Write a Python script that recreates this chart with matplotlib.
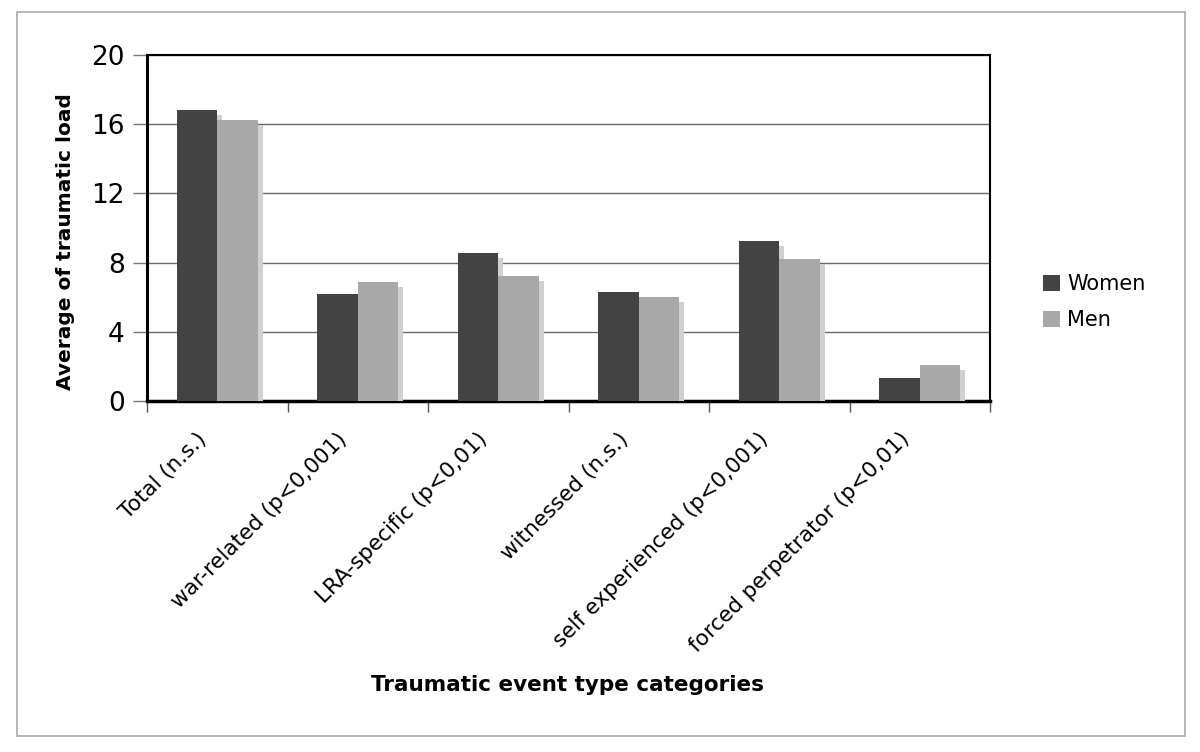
import matplotlib
matplotlib.use("Agg")
import matplotlib.pyplot as plt
import matplotlib.patheffects as pe
import matplotlib.transforms as mtransforms
from matplotlib.patches import Rectangle
import numpy as np

categories = ["Total (n.s.)", "war-related (p<0,001)", "LRA-specific (p<0,01)",
              "witnessed (n.s.)", "self experienced (p<0,001)", "forced perpetrator (p<0,01)"]
women = [16.8, 6.2, 8.55, 6.3, 9.25, 1.3]
men = [16.25, 6.9, 7.2, 6.0, 8.2, 2.1]
yticks = [0, 4, 8, 12, 16, 20]

plt.rcParams['font.family'] = ['DejaVu Sans']

fig = plt.figure(figsize=(12, 7.52), dpi=100)
fig.patches.append(Rectangle((0.0145, 0.021), 0.973, 0.963, transform=fig.transFigure,
                             fill=False, edgecolor='#aaaaaa', linewidth=1.2))
ax = fig.add_axes([0.1225, 0.4668, 0.7025, 0.4601])

x = np.arange(len(categories))
w = 0.29
shadow = [pe.SimplePatchShadow(offset=(3.6, -3.6), shadow_rgbFace='#d0d0d0', alpha=1.0), pe.Normal()]
bw = ax.bar(x - w / 2, women, w, color='#434343', label='Women', zorder=3)
bm = ax.bar(x + w / 2, men, w, color='#a8a8a8', label='Men', zorder=3)
for b in list(bw) + list(bm):
    b.set_path_effects(shadow)

ax.set_xlim(-0.5, len(categories) - 0.5)
ax.set_ylim(0, 20)
ax.set_yticks(yticks)
ax.set_yticklabels([str(v) for v in yticks], fontsize=19)
ax.yaxis.grid(True, color='#6a6a6a', linewidth=1.0, zorder=0)
ax.set_axisbelow(True)
ax.tick_params(axis='y', direction='out', length=10, width=1, color='#777777', pad=6)

ax.set_xticks(x)
ax.set_xticklabels(categories, rotation=45, ha='right', rotation_mode='anchor', fontsize=15.5)
ax.tick_params(axis='x', which='major', length=0, pad=20)
shift = mtransforms.ScaledTranslation(-21 / 100, 0, fig.dpi_scale_trans)
for lab in ax.get_xticklabels():
    lab.set_transform(lab.get_transform() + shift)
ax.set_xticks(np.arange(-0.5, len(categories)), minor=True)
ax.tick_params(axis='x', which='minor', direction='out', length=8, width=1, color='#555555')

for s in ['top', 'right']:
    ax.spines[s].set_linewidth(1.5)
ax.spines['left'].set_linewidth(2.2)
ax.spines['bottom'].set_linewidth(2.5)

ax.set_ylabel('Average of traumatic load', fontsize=14.5, fontweight='bold')
ax.yaxis.set_label_coords(-0.0854, 0.46)
ax.set_xlabel('Traumatic event type categories', fontsize=15.5, fontweight='bold')
ax.xaxis.set_label_coords(0.499, -0.792)

leg = ax.legend(loc='center left', bbox_to_anchor=(1.063, 0.286), frameon=False, fontsize=15,
                borderpad=0, borderaxespad=0,
                handlelength=0.82, handleheight=0.82, handletextpad=0.34, labelspacing=0.77)
for h in leg.legend_handles:
    h.set_path_effects([])

fig.savefig('out.png', dpi=100)
